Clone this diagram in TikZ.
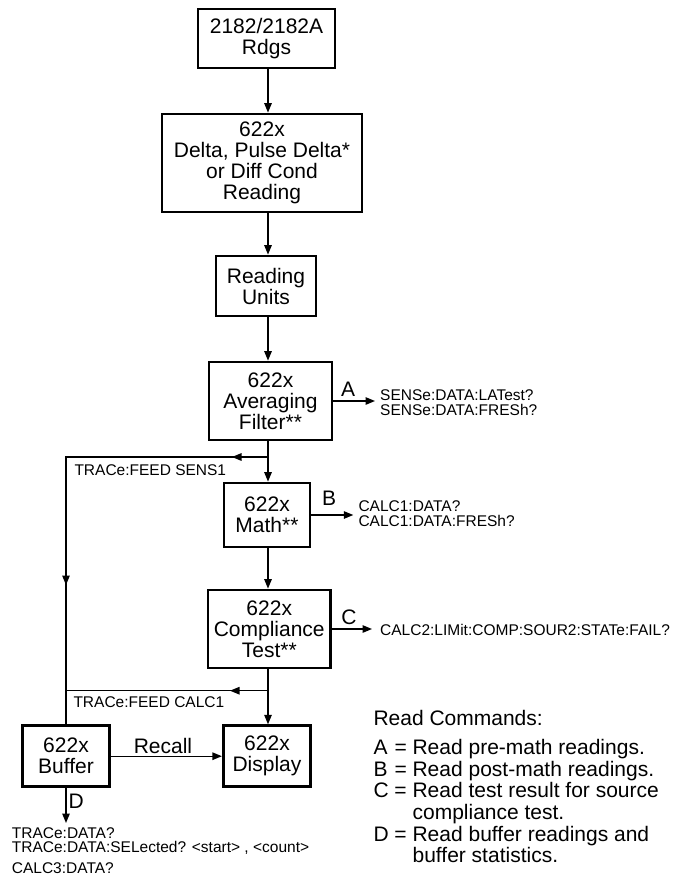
\documentclass[tikz,border=0pt]{standalone}
\usepackage{fontspec}
\setmainfont{Liberation Sans}
\usetikzlibrary{arrows.meta}
\begin{document}
\begin{tikzpicture}[x=1pt,y=-1pt,
  box/.style={draw,line width=2.8pt,align=center,inner sep=0pt,font=\fontsize{21}{21}\selectfont},
  conn/.style={line width=1.3pt},
  arr/.style={conn,-{Triangle[length=9.5pt,width=7.5pt]}},
  small/.style={inner sep=0pt,align=left,anchor=west,font=\fontsize{15.5}{15.5}\selectfont},
  lab/.style={inner sep=0pt,font=\fontsize{21}{21}\selectfont},
]
\useasboundingbox (0,0) rectangle (683,881);

% boxes
\node[box,minimum width=137pt,minimum height=59pt] (b1) at (266.5,38.5) {2182/2182A\\Rdgs};
\node[box,minimum width=200pt,minimum height=98pt] (b2) at (262,163) {622x\\Delta, Pulse Delta*\\or Diff Cond\\Reading};
\node[box,minimum width=100pt,minimum height=60pt] (b3) at (266,286) {Reading\\Units};
\node[box,minimum width=123pt,minimum height=78pt] (b4) at (270.5,401) {622x\\Averaging\\Filter**};
\node[box,minimum width=86pt,minimum height=64pt] (b5) at (267,515) {622x\\Math**};
\node[box,minimum width=122.5pt,minimum height=78pt] (b6) at (269.25,629) {622x\\Compliance\\Test**};
\node[box,minimum width=86.6pt,minimum height=61pt] (b7) at (66,756.2) {622x\\Buffer};
\node[box,minimum width=87.4pt,minimum height=61pt] (b8) at (267,756.2) {622x\\Display};

% main flow
\coordinate (mx) at (268,0);
\draw[arr] (b1.south -| mx) -- (b2.north -| mx);
\draw[arr] (b2.south -| mx) -- (b3.north -| mx);
\draw[arr] (b3.south -| mx) -- (b4.north -| mx);
\draw[arr] (b4.south -| mx) -- (b5.north -| mx);
\draw[arr] (b5.south -| mx) -- (b6.north -| mx);
\draw[arr] (b6.south -| mx) -- (b8.north -| mx);

% feed SENS1
\coordinate (t1) at (268,457);
\coordinate (k1) at (66,457);
\coordinate (h1) at (232,457);
\coordinate (v1) at (66,585);
\draw[conn] (t1) -- (k1) -- (b7.north);
\draw[arr] (t1) -- (h1);
\draw[arr] (k1) -- (v1);
\node[small] (f1) at (74.3,470.5) {TRACe:FEED SENS1};

% feed CALC1
\coordinate (t2) at (268,690.7);
\coordinate (k2) at (66,690.7);
\coordinate (h2) at (230,690.7);
\draw[conn] (t2) -- (k2);
\draw[arr] (t2) -- (h2);
\node[small] (f2) at (73.3,701.7) {TRACe:FEED CALC1};

% read A
\coordinate (ea) at (375,401);
\draw[arr] (b4.east) -- (ea);
\node[lab] (la) at (348,389) {A};
\node[small] (ta) at (380,402.5) {SENSe:DATA:LATest?\\SENSe:DATA:FRESh?};

% read B
\coordinate (eb) at (353.3,515);
\draw[arr] (b5.east) -- (eb);
\node[lab] (lb) at (329,498) {B};
\node[small] (tb) at (358.3,513.5) {CALC1:DATA?\\CALC1:DATA:FRESh?};

% read C
\coordinate (ec) at (372,629);
\draw[arr] (b6.east) -- (ec);
\node[lab] (lc) at (349,617) {C};
\node[small] (tc) at (380,630) {CALC2:LIMit:COMP:SOUR2:STATe:FAIL?};

% recall
\draw[arr] (b7.east) -- (b8.west);
\node[lab] (lr) at (163,746) {Recall};

% read D
\coordinate (ed) at (66,823);
\draw[arr] (b7.south) -- (ed);
\node[lab,anchor=west] (ld) at (68.5,801.7) {D};
\node[small,font=\fontsize{15.5}{14}\selectfont] (td) at (11.7,841) {TRACe:DATA?\\TRACe:DATA:SELected? <start> , <count>};
\node[small] (td2) at (11.7,867.7) {CALC3:DATA?};

% legend
\node[lab,anchor=west] (lh) at (373.3,718.3) {Read Commands:};
\node[inner sep=0pt,anchor=base west,font=\fontsize{21}{21.2}\selectfont] (lg) at (373.3,754.8)
{\begin{tabular}[t]{@{}l@{\ }c@{\ }l@{}}
A & = & Read pre-math readings.\\
B & = & Read post-math readings.\\
C & = & Read test result for source\\
  &   & compliance test.\\
D & = & Read buffer readings and\\
  &   & buffer statistics.
\end{tabular}};
\end{tikzpicture}
\end{document}
